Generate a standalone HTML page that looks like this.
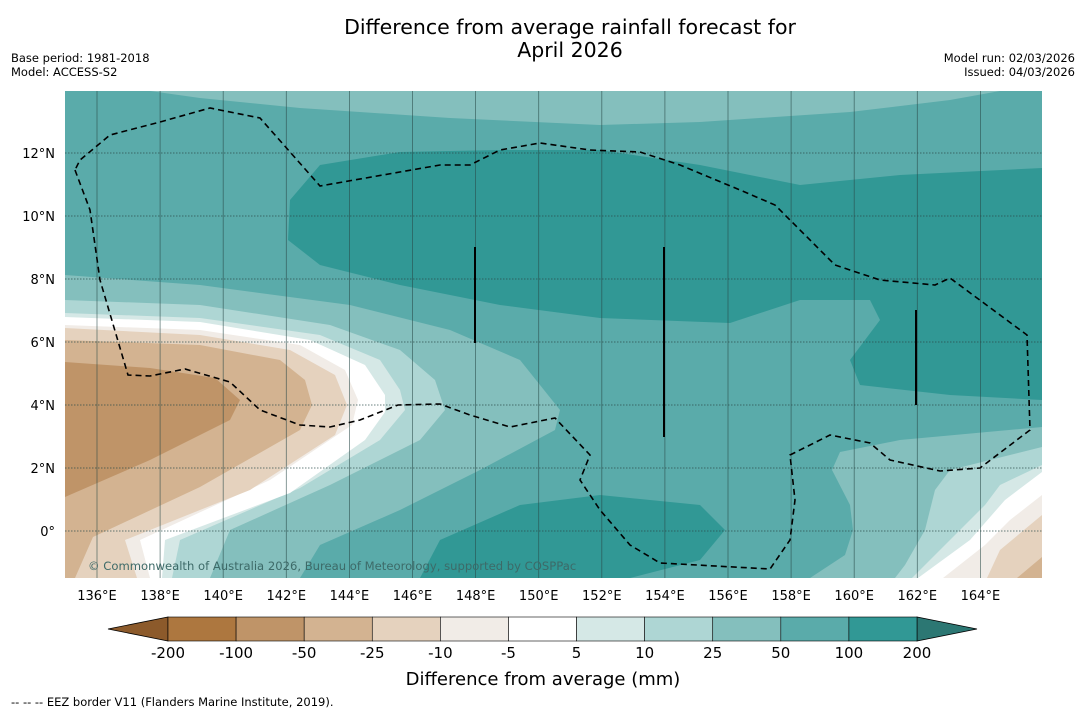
<!DOCTYPE html>
<html><head><meta charset="utf-8">
<style>
body{margin:0;background:#fff;font-family:"Liberation Sans","DejaVu Sans",sans-serif;}
svg text{font-family:"DejaVu Sans","Liberation Sans",sans-serif;}
</style></head>
<body>
<svg width="1085" height="713" viewBox="0 0 1085 713" xmlns="http://www.w3.org/2000/svg">
<text x="570" y="34" font-size="20.5" text-anchor="middle">Difference from average rainfall forecast for</text>
<text x="570" y="57" font-size="20.5" text-anchor="middle">April 2026</text>
<text x="11" y="62" font-size="11.5">Base period: 1981-2018</text>
<text x="11" y="76" font-size="11.5">Model: ACCESS-S2</text>
<text x="1075" y="62" font-size="11.5" text-anchor="end">Model run: 02/03/2026</text>
<text x="1075" y="76" font-size="11.5" text-anchor="end">Issued: 04/03/2026</text>
<defs><clipPath id="mc"><rect x="65" y="91" width="977" height="487"/></clipPath></defs>
<g clip-path="url(#mc)">
<rect x="65" y="91" width="977" height="487" fill="#5aabaa"/>
<polygon fill="#84bfbd" points="150,91 1000,91 950,100 850,112 700,122 600,125 450,118 300,108 200,98"/>
<polygon fill="#319895" points="290,200 320,165 400,152 500,150 600,150 700,165 800,185 900,175 1042,168 1042,400 950,395 860,385 850,360 880,320 870,300 800,300 730,323 600,318 500,305 400,285 320,265 288,240"/>
<polygon fill="#319895" points="420,578 440,540 520,505 600,495 700,505 725,530 700,560 630,578"/>
<polygon fill="#84bfbd" points="65,275 200,285 350,305 450,330 520,360 560,410 555,430 480,470 400,510 320,545 300,578 65,578"/>
<polygon fill="#aed6d4" points="65,300 200,305 330,325 400,350 435,380 445,410 420,440 330,485 230,530 210,578 65,578"/>
<polygon fill="#d5e8e6" points="65,313 200,318 320,335 380,360 400,390 405,410 380,440 300,488 180,540 172,578 65,578"/>
<polygon fill="#ffffff" points="65,317 200,322 310,340 365,365 385,395 385,412 365,440 290,493 165,540 162,578 65,578"/>
<polygon fill="#f1ece7" points="65,325 200,330 300,345 345,370 358,400 352,425 270,480 140,540 150,578 65,578"/>
<polygon fill="#e5d2be" points="65,328 200,335 290,350 335,375 347,405 335,435 250,490 125,540 137,578 65,578"/>
<polygon fill="#d3b391" points="65,340 200,345 280,360 305,380 312,405 300,430 200,487 93,537 75,578 65,578"/>
<polygon fill="#bf9468" points="65,362 150,368 215,378 240,400 230,420 150,460 65,497"/>
<polygon fill="#84bfbd" points="1042,427 900,440 840,452 832,470 850,505 853,530 845,555 810,578 1042,578"/>
<polygon fill="#aed6d4" points="1042,447 950,470 935,490 925,530 905,565 895,578 1042,578"/>
<polygon fill="#d5e8e6" points="1042,465 1000,485 985,505 960,530 930,560 912,578 1042,578"/>
<polygon fill="#ffffff" points="1042,472 1005,500 970,540 918,578 1042,578"/>
<polygon fill="#f1ece7" points="1042,495 1010,520 985,545 943,578 1042,578"/>
<polygon fill="#e5d2be" points="1042,515 1000,550 987,578 1042,578"/>
<polygon fill="#d3b391" points="1042,557 1017,578 1042,578"/>
<g id="grid"></g>
<polyline fill="none" stroke="#000" stroke-width="1.6" stroke-dasharray="6,4" points="75,170 90,210 100,280 128,375 150,376 185,369 230,382 260,410 300,425 330,427 360,420 398,405 440,404 470,415 510,427 555,418 590,455 580,480 600,510 630,545 660,563 770,569 790,540 795,500 790,455 830,435 870,443 890,460 940,471 980,468 1030,430 1027,335 950,278 935,285 880,280 835,265 775,205 740,190 680,165 640,152 590,150 540,143 500,150 470,165 440,165 320,186 260,118 210,108 160,122 110,135 80,160 75,170"/>
<line x1="475" y1="247" x2="475" y2="343" stroke="#000" stroke-width="2"/>
<line x1="664" y1="247" x2="664" y2="437" stroke="#000" stroke-width="2"/>
<line x1="916" y1="310" x2="916" y2="405" stroke="#000" stroke-width="2"/>
<text x="88" y="570" font-size="11.6" fill="#3d6a68">© Commonwealth of Australia 2026, Bureau of Meteorology, supported by COSPPac</text>
</g>
<g id="axes"></g>
<g id="cbar"></g>
<text x="543" y="685" font-size="18" text-anchor="middle">Difference from average (mm)</text>
<text x="11" y="706" font-size="11.5">--  --  -- EEZ border V11 (Flanders Marine Institute, 2019).</text>
</svg>
<script>
const lonTicks=[136,138,140,142,144,146,148,150,152,154,156,158,160,162,164];
const latTicks=[0,2,4,6,8,10,12];
const levelLabels=["-200","-100","-50","-25","-10","-5","5","10","25","50","100","200"];
const levelColors=["#ad773f","#bf9468","#d3b391","#e5d2be","#f1ece7","#ffffff","#d5e8e6","#aed6d4","#84bfbd","#5aabaa","#319895"];
const NS="http://www.w3.org/2000/svg";
const xLon=l=>97+(l-136)*31.55;
const yLat=l=>531-l*31.5;
function mk(t,a,p){const e=document.createElementNS(NS,t);for(const k in a)e.setAttribute(k,a[k]);p.appendChild(e);return e;}
const grid=document.getElementById('grid'),axes=document.getElementById('axes'),cb=document.getElementById('cbar');
lonTicks.forEach(l=>{const x=xLon(l);
 const g=mk('line',{x1:x,x2:x,y1:91,y2:578,stroke:'#2a4a48','stroke-width':0.8,'stroke-opacity':0.7},grid);
 
 
 const t=mk('text',{x:x,y:600,'font-size':13,'text-anchor':'middle'},axes);t.textContent=l+'°E';
 
 });
latTicks.forEach(l=>{const y=yLat(l);
 const g=mk('line',{x1:65,x2:1042,y1:y,y2:y,stroke:'#2a4a48','stroke-width':0.9,'stroke-dasharray':'1.5,1.5','stroke-opacity':0.7},grid);
 
 
 const t=mk('text',{x:55,y:y+5,'font-size':13,'text-anchor':'end'},axes);t.textContent=l===0?'0°':l+'°N';
 
 });
const cx0=168,cx1=917,cTop=617,cBot=641,nBins=levelColors.length,bw=(cx1-cx0)/nBins;
const lt=mk('polygon',{points:`108,629 ${cx0},${cTop} ${cx0},${cBot}`,fill:'#8c5a2b',stroke:'#000','stroke-width':0.8},cb);


const rt=mk('polygon',{points:`977,629 ${cx1},${cTop} ${cx1},${cBot}`,fill:'#2c7773',stroke:'#000','stroke-width':0.8},cb);


levelColors.forEach((c,i)=>{const r=mk('rect',{x:cx0+i*bw,y:cTop,width:bw,height:cBot-cTop,fill:c,stroke:'#000','stroke-width':0.6},cb);
 
 });
levelLabels.forEach((s,i)=>{const t=mk('text',{x:cx0+i*bw,y:658,'font-size':15,'text-anchor':'middle'},cb);t.textContent=s;
 
 });
</script>
</body></html>
